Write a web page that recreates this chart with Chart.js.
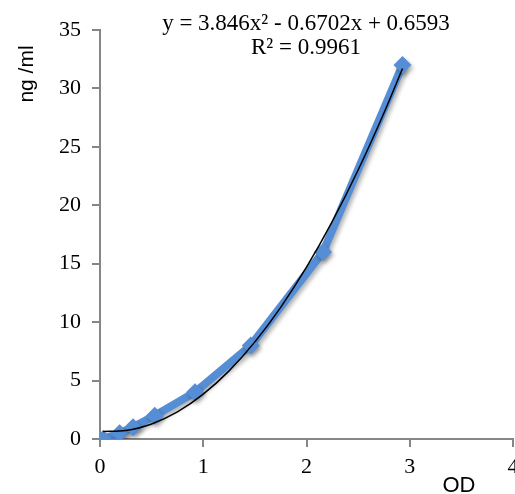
<!DOCTYPE html>
<html><head><meta charset="utf-8">
<script src="https://cdn.jsdelivr.net/npm/chart.js@4"></script>
<style>html,body{margin:0;padding:0;background:#fff;overflow:hidden;width:515px;height:494px}#wrap{width:522px;height:494px}</style>
</head><body><div id="wrap"><canvas id="c"></canvas></div>
<script>
const odValues = [0.03, 0.19, 0.32, 0.53, 0.92, 1.46, 2.16, 2.93];
const ngValues = [0, 0.5, 1, 2, 4, 8, 16, 32];
const trendX = [0.03, 0.25, 0.5, 0.75, 1.0, 1.25, 1.5, 1.75, 2.0, 2.25, 2.5, 2.75, 2.93];
const trendY = [0.64, 0.73, 1.29, 2.32, 3.84, 5.83, 8.31, 11.27, 14.70, 18.62, 23.02, 27.90, 31.71];
const xTicks = [0, 1, 2, 3, 4];
const yTicks = [0, 5, 10, 15, 20, 25, 30, 35];
const equationLines = ['y = 3.846x\u00B2 - 0.6702x + 0.6593', 'R\u00B2 = 0.9961'];
const xTitle = 'OD';
const yTitle = 'ng /ml';

const serif = 'Liberation Serif';
const axisColor = '#868686';

const shadowPlugin = {
  id: 'shadow',
  beforeDatasetDraw(chart, args) {
    if (args.index === 0) {
      const ctx = chart.ctx;
      ctx.save();
      ctx.shadowColor = 'rgba(0,0,0,0.3)';
      ctx.shadowBlur = 4;
      ctx.shadowOffsetX = 2;
      ctx.shadowOffsetY = 3;
    }
  },
  afterDatasetDraw(chart, args) {
    if (args.index === 0) chart.ctx.restore();
  }
};

const textPlugin = {
  id: 'texts',
  afterDraw(chart) {
    const ctx = chart.ctx;
    ctx.save();
    ctx.fillStyle = '#000';
    ctx.font = '23px "' + serif + '"';
    ctx.textAlign = 'center';
    ctx.textBaseline = 'alphabetic';
    ctx.fillText(equationLines[0], 306, 30);
    ctx.fillText(equationLines[1], 306, 54);
    ctx.font = '22px "Liberation Sans"';
    ctx.fillText(xTitle, 459, 492);
    ctx.translate(33, 74);
    ctx.rotate(-Math.PI / 2);
    ctx.font = '21px "Liberation Sans"';
    ctx.fillText(yTitle, 0, 0);
    ctx.restore();
  }
};

new Chart(document.getElementById('c'), {
  type: 'scatter',
  data: {
    datasets: [
      {
        data: odValues.map((x, i) => ({x, y: ngValues[i]})),
        showLine: true,
        borderColor: '#558ED5',
        backgroundColor: '#558ED5',
        borderWidth: 8,
        pointStyle: 'rectRot',
        pointRadius: 9,
        pointBorderWidth: 0,
        order: 2
      },
      {
        data: trendX.map((x, i) => ({x, y: trendY[i]})),
        showLine: true,
        borderColor: '#000',
        borderWidth: 1.5,
        pointRadius: 0,
        cubicInterpolationMode: 'monotone',
        order: 1
      }
    ]
  },
  options: {
    responsive: true,
    maintainAspectRatio: false,
    animation: false,
    layout: { padding: { top: 30, right: 0, left: 0, bottom: 0 } },
    plugins: { legend: { display: false }, tooltip: { enabled: false } },
    scales: {
      x: {
        type: 'linear', min: 0, max: 4,
        afterBuildTicks(s) { s.ticks = xTicks.map(v => ({value: v})); },
        afterFit(s) { s.height = 55; s.paddingLeft = 0; s.paddingRight = 0; },
        grid: { drawOnChartArea: false, drawTicks: true, tickLength: 8, color: axisColor, lineWidth: 2 },
        border: { display: true, color: axisColor, width: 2 },
        ticks: { color: '#000', font: { family: serif, size: 22 }, padding: 7 }
      },
      y: {
        type: 'linear', min: 0, max: 35,
        afterBuildTicks(s) { s.ticks = yTicks.map(v => ({value: v})); },
        afterFit(s) { s.width = 100; s.paddingTop = 0; s.paddingBottom = 0; },
        grid: { drawOnChartArea: false, drawTicks: true, tickLength: 8, color: axisColor, lineWidth: 2 },
        border: { display: true, color: axisColor, width: 2 },
        ticks: { color: '#000', font: { family: serif, size: 22 }, padding: 11 }
      }
    }
  },
  plugins: [shadowPlugin, textPlugin]
});
</script></body></html>
